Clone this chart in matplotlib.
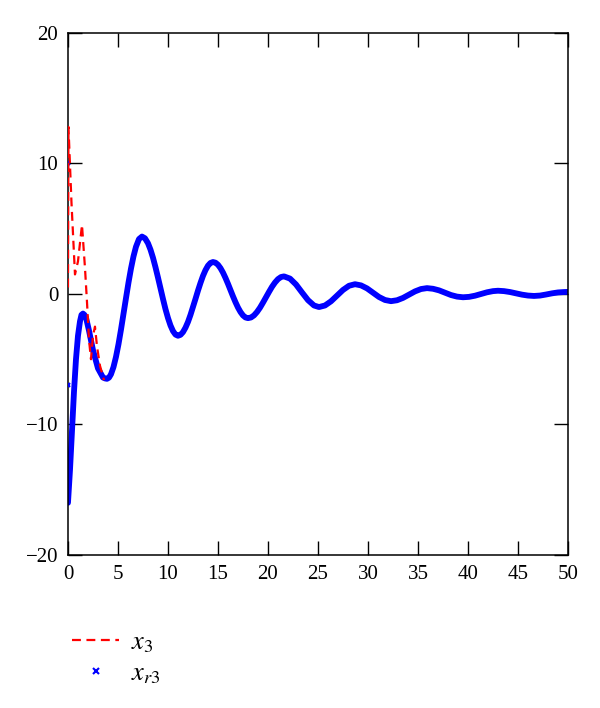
import matplotlib
matplotlib.use("Agg")
import matplotlib.pyplot as plt
from matplotlib.lines import Line2D

#red dashed signal x3 (only the early transient is visible)
t_x3 = [0.0, 0.05, 0.35, 0.7, 1.0, 1.4, 1.7, 1.9, 2.1, 2.3, 2.5, 2.7, 2.9, 3.2, 3.6]
y_x3 = [0.5, 12.8, 7.0, 1.5, 2.5, 5.3, 2.0, -0.6, -3.5, -5.0, -3.2, -2.5, -4.0, -5.5, -6.6]

#blue reference signal xr3 (damped oscillation)
t_xr3 = [0.0, 0.2, 0.4, 0.6, 0.8, 1.0, 1.2, 1.35, 1.5, 1.65, 1.8, 2.1, 2.5, 3.0, 3.5, 3.7, 3.9,
         4.1, 4.3, 4.55, 4.8, 5.05, 5.3, 5.55, 5.8, 6.05, 6.3, 6.55, 6.8, 7.1, 7.4,
         7.7, 8.0, 8.25, 8.5, 8.75, 9.0, 9.25, 9.5, 9.75, 10.0, 10.25, 10.5, 10.75, 11.0,
         11.25, 11.5, 11.75, 12.0, 12.25, 12.5, 12.75, 13.0, 13.25, 13.5, 13.75, 14.0, 14.25, 14.5,
         14.75, 15.0, 15.25, 15.5, 15.75, 16.0, 16.25, 16.5, 16.75, 17.0, 17.25, 17.5, 17.75, 18.0,
         18.3, 18.6, 18.9, 19.2, 19.5, 19.8, 20.1, 20.4, 20.7, 21.0, 21.3, 21.6,
         22.2, 22.8, 23.4, 24.0, 24.6, 25.1,
         25.7, 26.3, 26.9, 27.5, 28.1, 28.7,
         29.3, 29.9, 30.5, 31.1, 31.7, 32.3,
         32.9, 33.5, 34.1, 34.7, 35.3, 35.9,
         36.5, 37.1, 37.7, 38.3, 38.9, 39.5,
         40.1, 40.7, 41.3, 41.9, 42.5, 43.0,
         43.6, 44.2, 44.8, 45.4, 46.0, 46.6,
         47.2, 47.8, 48.4, 49.0, 49.6, 50.0]
y_xr3 = [-16.0, -13.5, -10.5, -7.5, -5.0, -3.2, -2.1, -1.6, -1.5, -1.6, -1.8, -2.8, -4.3, -5.7, -6.4, -6.47, -6.5,
         -6.41, -6.15, -5.6, -4.82, -3.85, -2.73, -1.55, -0.32, 0.87, 1.95, 2.88, 3.62, 4.21, 4.4,
         4.27, 3.89, 3.40, 2.78, 2.05, 1.26, 0.43, -0.38, -1.16, -1.84, -2.41, -2.84, -3.11, -3.2,
         -3.13, -2.92, -2.58, -2.14, -1.6, -1.0, -0.375, 0.26, 0.85, 1.39, 1.83, 2.17, 2.38, 2.45,
         2.40, 2.24, 1.98, 1.64, 1.23, 0.78, 0.3, -0.18, -0.63, -1.04, -1.38, -1.64, -1.80, -1.85,
         -1.80, -1.64, -1.38, -1.05, -0.66, -0.25, 0.16, 0.55, 0.88, 1.14, 1.30, 1.35,
         1.18, 0.73, 0.12, -0.47, -0.88, -1.0,
         -0.88, -0.56, -0.125, 0.31, 0.63, 0.75,
         0.66, 0.43, 0.1, -0.23, -0.46, -0.55,
         -0.48, -0.3, -0.05, 0.2, 0.38, 0.45,
         0.4, 0.28, 0.1, -0.08, -0.2, -0.25,
         -0.22, -0.13, 0.0, 0.13, 0.22, 0.25,
         0.22, 0.15, 0.05, -0.05, -0.12, -0.15,
         -0.12, -0.04, 0.05, 0.12, 0.15, 0.16]
#stray xr3 samples sitting on the y axis
t_xr3_start = [0.0, 0.0]
y_xr3_start = [10.0, -7.0]

x_ticks = [0, 5, 10, 15, 20, 25, 30, 35, 40, 45, 50]
y_ticks = [-20, -10, 0, 10, 20]
y_tick_labels = ["\u221220", "\u221210", "0", "10", "20"]

plt.rcParams["font.family"] = ["Liberation Serif", "DejaVu Serif"]
plt.rcParams["mathtext.fontset"] = "stix"

fig = plt.figure(figsize=(6.0, 7.08), dpi=100)
ax = fig.add_axes([0.1133, 0.2161, 0.8334, 0.7373])

#plot blue reference as thick line of x markers
ax.plot(t_xr3, y_xr3, color="#0000ff", lw=4.2, solid_capstyle="round",
        solid_joinstyle="round", zorder=2)
ax.plot(t_xr3_start, y_xr3_start, ls="none", marker="x", ms=3, mew=1.5, color="#0000ff", zorder=3)
#plot red dashed signal
ax.plot(t_x3, y_x3, color="#ff0000", ls=(0, (4, 2.5)), lw=1.6, zorder=3)

ax.set_xlim(0, 50)
ax.set_ylim(-20, 20)
ax.set_xticks(x_ticks)
ax.set_yticks(y_ticks)
ax.set_yticklabels(y_tick_labels)
ax.tick_params(direction="in", length=10, width=1, top=True, right=True,
               labelsize=15, pad=7)
for s in ax.spines.values():
    s.set_linewidth(1.1)

handles = [Line2D([], [], color="#ff0000", ls=(0, (4, 2.5)), lw=1.6),
           Line2D([], [], color="#0000ff", ls="none", marker="x", ms=5, mew=1.5)]
fig.legend(handles, ["$x_3$", "$x_{r3}$"], loc="upper left",
           bbox_to_anchor=(0.08, 0.142), frameon=False, fontsize=19,
           handlelength=1.8, handletextpad=0.45, labelspacing=0.25)

fig.savefig("out.png", dpi=100)
